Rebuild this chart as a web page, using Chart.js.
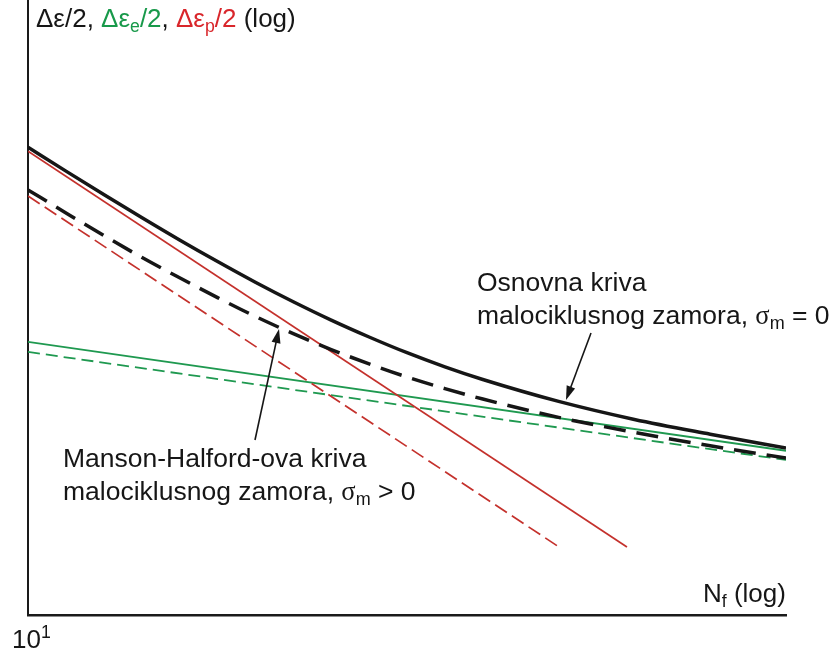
<!DOCTYPE html>
<html>
<head>
<meta charset="utf-8">
<script src="https://cdn.jsdelivr.net/npm/chart.js@4.4.0/dist/chart.umd.min.js"></script>
<style>
  html, body { margin: 0; padding: 0; background: #fff; }
  #wrap { width: 833px; height: 653px; position: relative; }
</style>
</head>
<body>
<div id="wrap"><canvas id="chart"></canvas></div>
<script>
// number of cycles to failure (log axis)
const cyclesN = [10, 17.8, 31.6, 56.2, 100, 178, 316, 562, 1000, 1778, 3162, 5623, 10000, 31623, 100000, 316228, 1000000];
// total strain amplitude, sigma_m = 0 (basic curve)
const totalBase = [0.01102, 0.00771, 0.00543, 0.00385, 0.00275, 0.00199, 0.00146, 0.00109, 0.000828, 0.000643, 0.000508, 0.000411, 0.000340, 0.000245, 0.000187, 0.000150, 0.000122];
// total strain amplitude, sigma_m > 0 (Manson-Halford)
const totalMean = [0.00582, 0.00412, 0.00294, 0.00212, 0.00156, 0.00116, 0.000875, 0.000676, 0.000533, 0.000430, 0.000353, 0.000297, 0.000254, 0.000193, 0.000154, 0.000126, 0.000105];

// plastic part (straight lines in log-log)
const plasticBaseN = [10, 89300];
const plasticBase = [0.0104, 0.0000277];
const plasticMeanN = [10, 31800];
const plasticMean = [0.00531, 0.0000277];

// elastic part
const elasticN = [10, 1000000];
const elasticBase = [0.000597, 0.000117];
const elasticMean = [0.000514, 0.000102];

const BLACK = "#161616";
const GREEN = "#1f9950";
const RED = "#c4312c";
const RED_TXT = "#d9262b";
const GREEN_TXT = "#18994a";

function pts(xs, ys) {
  return xs.map((x, i) => ({ x: x, y: ys[i] }));
}

const FONT = '"Liberation Sans", Arial, sans-serif';

// draws a sequence of text runs, with sub/superscripts
function drawRuns(ctx, x, y, runs, size) {
  let cx = x;
  runs.forEach(r => {
    let s = size, dy = 0;
    if (r.sub) { s = size * 0.68; dy = size * 0.2; }
    if (r.sup) { s = size * 0.68; dy = -size * 0.4; }
    ctx.font = s + "px " + (r.serif ? '"Liberation Serif", serif' : FONT);
    ctx.fillStyle = r.c || BLACK;
    ctx.fillText(r.t, cx, y + dy);
    cx += ctx.measureText(r.t).width;
  });
}

function arrow(ctx, x1, y1, x2, y2) {
  const a = Math.atan2(y2 - y1, x2 - x1);
  const len = 14, hw = 4.5;
  ctx.strokeStyle = BLACK;
  ctx.fillStyle = BLACK;
  ctx.lineWidth = 1.6;
  ctx.beginPath();
  ctx.moveTo(x1, y1);
  ctx.lineTo(x2 - Math.cos(a) * len * 0.8, y2 - Math.sin(a) * len * 0.8);
  ctx.stroke();
  ctx.beginPath();
  ctx.moveTo(x2, y2);
  ctx.lineTo(x2 - Math.cos(a) * len + Math.sin(a) * hw, y2 - Math.sin(a) * len - Math.cos(a) * hw);
  ctx.lineTo(x2 - Math.cos(a) * len - Math.sin(a) * hw, y2 - Math.sin(a) * len + Math.cos(a) * hw);
  ctx.closePath();
  ctx.fill();
}

const labels = {
  id: "labels",
  afterDraw(chart) {
    const ctx = chart.ctx;
    const xs = chart.scales.x;
    const ca = chart.chartArea;
    ctx.save();
    ctx.textBaseline = "alphabetic";
    ctx.textAlign = "left";

    // y axis title
    drawRuns(ctx, 36, 27, [
      { t: "Δε/2, " },
      { t: "Δε", c: GREEN_TXT }, { t: "e", c: GREEN_TXT, sub: true }, { t: "/2", c: GREEN_TXT },
      { t: ", " },
      { t: "Δε", c: RED_TXT }, { t: "p", c: RED_TXT, sub: true }, { t: "/2", c: RED_TXT },
      { t: " (log)" }
    ], 26);

    // x axis title
    drawRuns(ctx, 703, 602, [{ t: "N" }, { t: "f", sub: true }, { t: " (log)" }], 26);

    // origin tick
    const x0 = xs.getPixelForValue(10);
    drawRuns(ctx, x0 - 16, ca.bottom + 33, [{ t: "10" }, { t: "1", sup: true }], 26);

    // curve notes
    drawRuns(ctx, 477, 291, [{ t: "Osnovna kriva" }], 26.5);
    drawRuns(ctx, 477, 324, [{ t: "malociklusnog zamora, " }, { t: "σ", serif: true }, { t: "m", sub: true }, { t: " = 0" }], 26.5);
    drawRuns(ctx, 63, 467, [{ t: "Manson-Halford-ova kriva" }], 26.5);
    drawRuns(ctx, 63, 500, [{ t: "malociklusnog zamora, " }, { t: "σ", serif: true }, { t: "m", sub: true }, { t: " > 0" }], 26.5);

    arrow(ctx, 591, 333, 566, 400);
    arrow(ctx, 255, 440, 279, 329);
    ctx.restore();
  }
};

new Chart(document.getElementById("chart"), {
  type: "line",
  data: {
    datasets: [
      {
        label: "total, sigma_m = 0",
        data: pts(cyclesN, totalBase),
        borderColor: BLACK,
        borderWidth: 3.5,
        cubicInterpolationMode: "monotone",
      },
      {
        label: "total, sigma_m > 0",
        data: pts(cyclesN, totalMean),
        borderColor: BLACK,
        borderWidth: 3.5,
        borderDash: [22, 11],
        cubicInterpolationMode: "monotone",
      },
      {
        label: "plastic",
        data: pts(plasticBaseN, plasticBase),
        borderColor: RED,
        borderWidth: 1.7,
      },
      {
        label: "plastic, mean",
        data: pts(plasticMeanN, plasticMean),
        borderColor: RED,
        borderWidth: 1.7,
        borderDash: [14, 6],
      },
      {
        label: "elastic",
        data: pts(elasticN, elasticBase),
        borderColor: GREEN,
        borderWidth: 1.8,
      },
      {
        label: "elastic, mean",
        data: pts(elasticN, elasticMean),
        borderColor: GREEN,
        borderWidth: 1.8,
        borderDash: [12, 6],
      },
    ],
  },
  options: {
    responsive: true,
    maintainAspectRatio: false,
    animation: false,
    layout: { padding: { left: 28, right: 47, top: 0, bottom: 38 } },
    elements: { point: { radius: 0 }, line: { fill: false } },
    plugins: { legend: { display: false }, tooltip: { enabled: false } },
    scales: {
      x: {
        type: "logarithmic",
        min: 10,
        max: 1000000,
        grid: { display: false, drawTicks: false },
        ticks: { display: false },
        border: { display: true, color: "#1a1a1a", width: 2.5 },
      },
      y: {
        type: "logarithmic",
        min: 0.00001,
        max: 0.1,
        grid: { display: false, drawTicks: false },
        ticks: { display: false },
        border: { display: true, color: "#1a1a1a", width: 2 },
      },
    },
  },
  plugins: [labels],
});
</script>
</body>
</html>
